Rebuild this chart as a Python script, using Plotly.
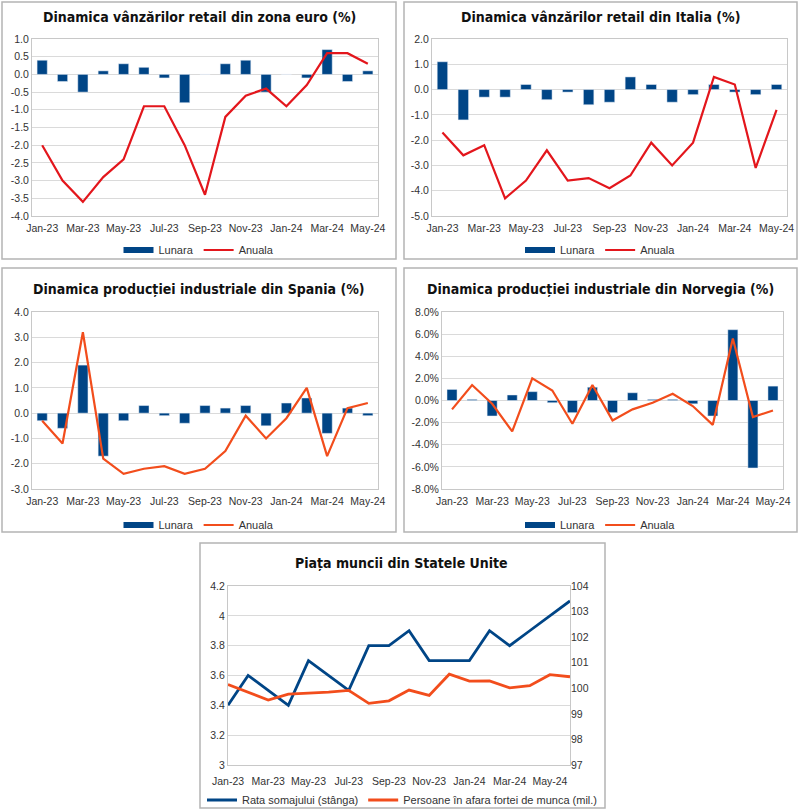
import plotly.graph_objects as go

W, H = 800, 809

months17 = ["Jan-23", "Feb-23", "Mar-23", "Apr-23", "May-23", "Jun-23", "Jul-23", "Aug-23",
            "Sep-23", "Oct-23", "Nov-23", "Dec-23", "Jan-24", "Feb-24", "Mar-24", "Apr-24", "May-24"]
months18 = months17 + ["Jun-24"]

# Panel 1: euro zone retail
ez_lunara = [0.4, -0.2, -0.5, 0.1, 0.3, 0.2, -0.1, -0.8, 0.0, 0.3, 0.4, -0.5, 0.0, -0.1, 0.7, -0.2, 0.1]
ez_anuala = [-2.0, -3.0, -3.6, -2.9, -2.4, -0.9, -0.9, -2.0, -3.4, -1.2, -0.6, -0.4, -0.9, -0.3, 0.6, 0.6, 0.3]
ez_ticks = [1.0, 0.5, 0.0, -0.5, -1.0, -1.5, -2.0, -2.5, -3.0, -3.5, -4.0]

# Panel 2: Italy retail
it_lunara = [1.1, -1.2, -0.3, -0.3, 0.2, -0.4, -0.1, -0.6, -0.5, 0.5, 0.2, -0.5, -0.2, 0.2, -0.1, -0.2, 0.2]
it_anuala = [-1.7, -2.6, -2.2, -4.3, -3.6, -2.4, -3.6, -3.5, -3.9, -3.4, -2.1, -3.0, -2.1, 0.5, 0.2, -3.1, -0.8]
it_ticks = [2.0, 1.0, 0.0, -1.0, -2.0, -3.0, -4.0, -5.0]

# Panel 3: Spain industrial production
es_lunara = [-0.3, -0.6, 1.9, -1.7, -0.3, 0.3, -0.1, -0.4, 0.3, 0.2, 0.3, -0.5, 0.4, 0.6, -0.8, 0.2, -0.1]
es_anuala = [-0.3, -1.2, 3.2, -1.8, -2.4, -2.2, -2.1, -2.4, -2.2, -1.5, -0.1, -1.0, -0.2, 1.0, -1.7, 0.2, 0.4]
es_ticks = [4.0, 3.0, 2.0, 1.0, 0.0, -1.0, -2.0, -3.0]

# Panel 4: Norway industrial production (%)
no_lunara = [1.0, 0.1, -1.4, 0.5, 0.8, -0.2, -1.1, 1.2, -1.1, 0.7, 0.1, 0.1, -0.3, -1.4, 6.4, -6.1, 1.3]
no_anuala = [-0.8, 1.4, -0.3, -2.8, 2.0, 0.9, -2.1, 1.4, -1.8, -0.8, -0.2, 0.6, -0.5, -2.2, 5.6, -1.5, -0.9]
no_ticks = [8.0, 6.0, 4.0, 2.0, 0.0, -2.0, -4.0, -6.0, -8.0]

# Panel 5: US labour market
us_rata = [3.4, 3.6, 3.5, 3.4, 3.7, 3.6, 3.5, 3.8, 3.8, 3.9, 3.7, 3.7, 3.7, 3.9, 3.8, 3.9, 4.0, 4.1]
us_persoane = [100.15, 99.86, 99.54, 99.77, 99.8, 99.85, 99.92, 99.41, 99.51, 99.93, 99.72, 100.55,
               100.28, 100.29, 100.02, 100.1, 100.53, 100.45]
us_left_ticks = [3.0, 3.2, 3.4, 3.6, 3.8, 4.0, 4.2]
us_right_ticks = [97, 98, 99, 100, 101, 102, 103, 104]

BLUE = "#004586"
RED = "#e3161c"
ORANGE = "#f24d1c"
GRID = "#dadada"
TICKFONT = dict(family="Liberation Sans, Arial, sans-serif", size=10.5, color="#333333")
TITLEFONT = dict(family="Liberation Sans Narrow, DejaVu Sans Condensed, sans-serif",
                 size=14, color="#111111")
LEGFONT = dict(family="Liberation Sans, Arial, sans-serif", size=11, color="#333333")


def fx(x):
    return x / W


def fy(y):
    return 1 - y / H


fig = go.Figure()
shapes = []
annotations = []
layout = {}

panels = [
    dict(title="Dinamica vânzărilor retail din zona euro (%)", box=(2, 2, 396, 259),
         plot=(32, 39, 378, 216), bars=ez_lunara, line=ez_anuala, ticks=ez_ticks,
         fmt="{:.1f}", color=RED, title_y=17, leg_y=250),
    dict(title="Dinamica vânzărilor retail din Italia (%)", box=(404, 2, 797, 259),
         plot=(432, 39, 787, 216), bars=it_lunara, line=it_anuala, ticks=it_ticks,
         fmt="{:.1f}", color=RED, title_y=17, leg_y=250),
    dict(title="Dinamica producției industriale din Spania (%)", box=(2, 268, 396, 532),
         plot=(32, 312, 378, 489), bars=es_lunara, line=es_anuala, ticks=es_ticks,
         fmt="{:.1f}", color=ORANGE, title_y=289, leg_y=525),
    dict(title="Dinamica producției industriale din Norvegia (%)", box=(404, 268, 797, 532),
         plot=(442, 312, 783, 489), bars=no_lunara, line=no_anuala, ticks=no_ticks,
         fmt="{:.1f}%", color=ORANGE, title_y=289, leg_y=525),
]

for i, p in enumerate(panels, start=1):
    xa = "x" if i == 1 else f"x{i}"
    ya = "y" if i == 1 else f"y{i}"
    lg = "legend" if i == 1 else f"legend{i}"
    x0, y0, x1, y1 = p["plot"]
    fig.add_trace(go.Bar(x=months17, y=p["bars"], name="Lunara", marker_color=BLUE, width=0.5,
                         xaxis=xa, yaxis=ya, legend=lg, showlegend=False))
    # legend-only entry drawn as a wide bar swatch
    fig.add_trace(go.Scatter(x=[None], y=[None], name="Lunara", mode="lines",
                             line=dict(color=BLUE, width=6), xaxis=xa, yaxis=ya, legend=lg))
    fig.add_trace(go.Scatter(x=months17, y=p["line"], name="Anuala", mode="lines",
                             line=dict(color=p["color"], width=2.2), xaxis=xa, yaxis=ya, legend=lg))
    tks = p["ticks"]
    layout["xaxis" if i == 1 else f"xaxis{i}"] = dict(
        domain=[fx(x0), fx(x1)], anchor=ya, type="category", categoryorder="array",
        categoryarray=months17, range=[-0.5, 16.5], tickmode="array",
        tickvals=months17[::2], ticktext=months17[::2], showgrid=False, showline=True,
        mirror=True, linecolor="#c8c8c8", linewidth=1, ticks="", tickfont=TICKFONT,
        ticklabelstandoff=2, fixedrange=True)
    layout["yaxis" if i == 1 else f"yaxis{i}"] = dict(
        domain=[fy(y1), fy(y0)], anchor=xa, range=[min(tks), max(tks)], tickmode="array",
        tickvals=tks, ticktext=[p["fmt"].format(v) for v in tks], showgrid=True, gridcolor=GRID,
        gridwidth=1, zeroline=False, showline=True, mirror=True, linecolor="#c8c8c8",
        ticks="", tickfont=TICKFONT, fixedrange=True)
    bx0, by0, bx1, by1 = p["box"]
    shapes.append(dict(type="rect", xref="paper", yref="paper", x0=fx(bx0), x1=fx(bx1),
                       y0=fy(by1), y1=fy(by0), line=dict(color="#b4b4b4", width=1.5),
                       fillcolor="rgba(0,0,0,0)", layer="below"))
    annotations.append(dict(text="<b>" + p["title"] + "</b>", xref="paper", yref="paper",
                            x=fx((bx0 + bx1) / 2), y=fy(p["title_y"]), xanchor="center",
                            yanchor="middle", showarrow=False, font=TITLEFONT))
    layout[lg] = dict(orientation="h", x=fx((bx0 + bx1) / 2), y=fy(p["leg_y"]), xanchor="center",
                      yanchor="middle", font=LEGFONT, bgcolor="rgba(0,0,0,0)",
                      itemwidth=30, tracegroupgap=0)

# Panel 5
fig.add_trace(go.Scatter(x=months18, y=us_rata, name="Rata somajului (stânga)", mode="lines",
                         line=dict(color=BLUE, width=2.8), xaxis="x5", yaxis="y5", legend="legend5"))
fig.add_trace(go.Scatter(x=months18, y=us_persoane, name="Persoane în afara fortei de munca (mil.)",
                         mode="lines", line=dict(color=ORANGE, width=2.8), xaxis="x5", yaxis="y6",
                         legend="legend5"))
px0, py0, px1, py1 = 228, 586, 570, 765
layout["xaxis5"] = dict(domain=[fx(px0), fx(px1)], anchor="y5", type="category",
                        categoryorder="array", categoryarray=months18, range=[0, 17],
                        tickmode="array", tickvals=months18[:17:2], ticktext=months18[:17:2],
                        showgrid=False, showline=True, mirror=True, linecolor="#c8c8c8",
                        ticks="", tickfont=TICKFONT, ticklabelstandoff=6, fixedrange=True)
layout["yaxis5"] = dict(domain=[fy(py1), fy(py0)], anchor="x5", range=[3.0, 4.2], tickmode="array",
                        tickvals=us_left_ticks, ticktext=[f"{v:g}" for v in us_left_ticks],
                        showgrid=True, gridcolor=GRID, zeroline=False, showline=True, mirror=True,
                        linecolor="#c8c8c8", ticks="", tickfont=TICKFONT, fixedrange=True)
layout["yaxis6"] = dict(domain=[fy(py1), fy(py0)], anchor="x5", overlaying="y5", side="right",
                        range=[97, 104], tickmode="array", tickvals=us_right_ticks,
                        ticktext=[str(v) for v in us_right_ticks], showgrid=False, zeroline=False,
                        ticks="", tickfont=TICKFONT, fixedrange=True)
shapes.append(dict(type="rect", xref="paper", yref="paper", x0=fx(200), x1=fx(605), y0=fy(808),
                   y1=fy(543), line=dict(color="#b4b4b4", width=1.5), fillcolor="rgba(0,0,0,0)",
                   layer="below"))
annotations.append(dict(text="<b>Piața muncii din Statele Unite</b>", xref="paper", yref="paper",
                        x=fx(402), y=fy(563), xanchor="center", yanchor="middle", showarrow=False,
                        font=TITLEFONT))
layout["legend5"] = dict(orientation="h", x=fx(402), y=fy(800), xanchor="center", yanchor="middle",
                         font=LEGFONT, bgcolor="rgba(0,0,0,0)", itemwidth=30)

fig.update_layout(width=W, height=H, margin=dict(l=0, r=0, t=0, b=0, autoexpand=False),
                  paper_bgcolor="white", plot_bgcolor="white", shapes=shapes,
                  annotations=annotations, showlegend=True, barmode="overlay", **layout)

fig.write_html("out.html", config={"displayModeBar": False},
               post_script="document.body.style.margin='0';document.body.style.overflow='hidden';")
